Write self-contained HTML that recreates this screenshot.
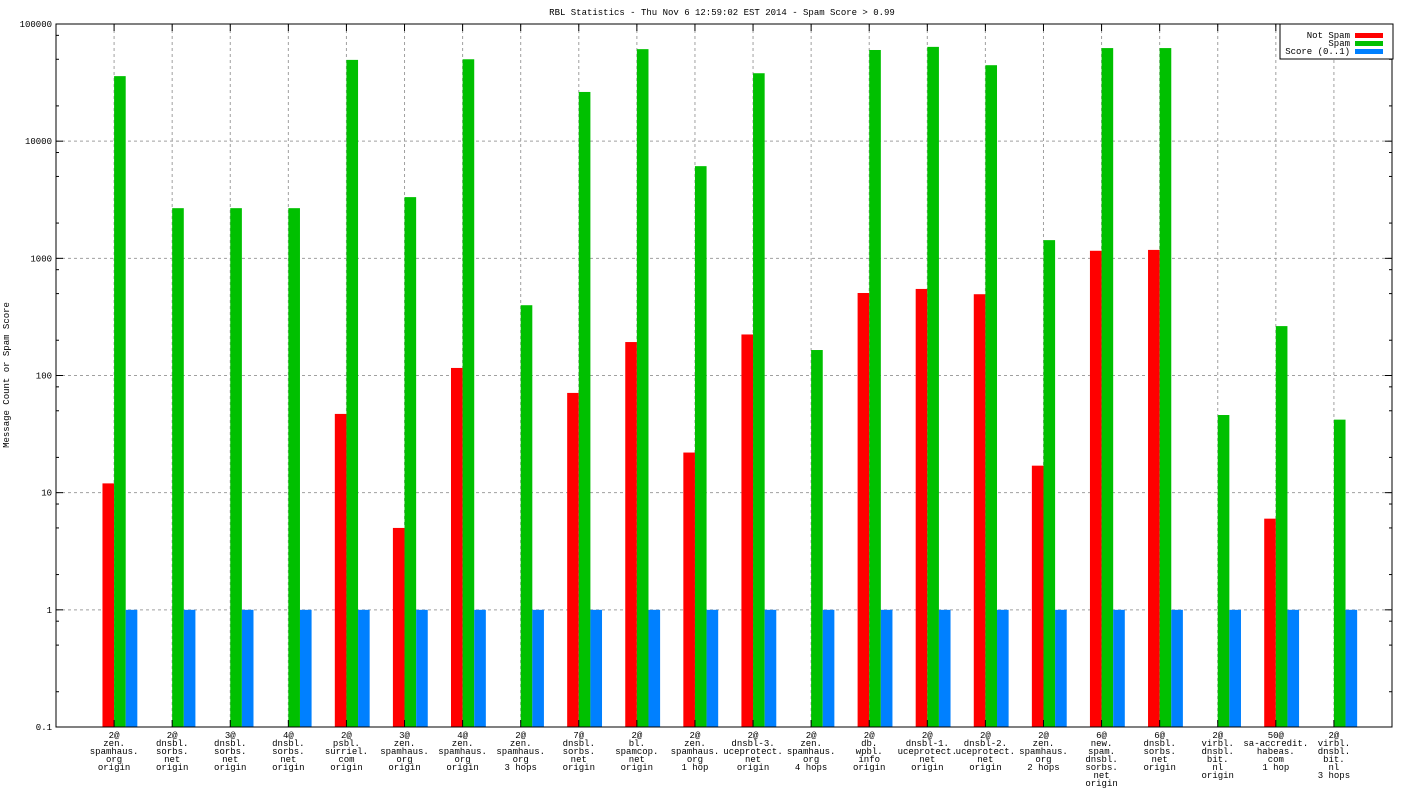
<!DOCTYPE html>
<html><head><meta charset="utf-8"><style>
body{margin:0;background:#fff}
svg text{font-family:"Liberation Mono","DejaVu Sans Mono",monospace;font-size:9px;fill:#000}
</style></head><body>
<svg id="chart" width="1408" height="792" xmlns="http://www.w3.org/2000/svg">
<text x="722" y="15" text-anchor="middle">RBL Statistics - Thu Nov  6 12:59:02 EST 2014 - Spam Score &gt; 0.99</text>
<text transform="translate(9,375) rotate(-90)" text-anchor="middle">Message Count or Spam Score</text>
<g id="grid"></g><g id="bars"></g><g id="axes"></g>
<g>
<rect x="1280" y="24" width="113" height="35" fill="#fff" stroke="#000"/>
<text x="1350" y="38" text-anchor="end">Not Spam</text>
<rect x="1355" y="33" width="28" height="5" fill="#ff0000"/>
<text x="1350" y="46" text-anchor="end">Spam</text>
<rect x="1355" y="41" width="28" height="5" fill="#00c000"/>
<text x="1350" y="54" text-anchor="end">Score (0..1)</text>
<rect x="1355" y="49" width="28" height="5" fill="#0080ff"/>
</g>
</svg>
<script>
const categories=[["2@","zen.","spamhaus.","org","origin"],["2@","dnsbl.","sorbs.","net","origin"],["3@","dnsbl.","sorbs.","net","origin"],["4@","dnsbl.","sorbs.","net","origin"],["2@","psbl.","surriel.","com","origin"],["3@","zen.","spamhaus.","org","origin"],["4@","zen.","spamhaus.","org","origin"],["2@","zen.","spamhaus.","org","3 hops"],["7@","dnsbl.","sorbs.","net","origin"],["2@","bl.","spamcop.","net","origin"],["2@","zen.","spamhaus.","org","1 hop"],["2@","dnsbl-3.","uceprotect.","net","origin"],["2@","zen.","spamhaus.","org","4 hops"],["2@","db.","wpbl.","info","origin"],["2@","dnsbl-1.","uceprotect.","net","origin"],["2@","dnsbl-2.","uceprotect.","net","origin"],["2@","zen.","spamhaus.","org","2 hops"],["6@","new.","spam.","dnsbl.","sorbs.","net","origin"],["6@","dnsbl.","sorbs.","net","origin"],["2@","virbl.","dnsbl.","bit.","nl","origin"],["50@","sa-accredit.","habeas.","com","1 hop"],["2@","virbl.","dnsbl.","bit.","nl","3 hops"]];
const notSpam=[12,0,0,0,47,5,116,0,71,193,22,224,0,506,548,494,17,1160,1180,0,6,0];
const spam=[35900,2680,2680,2680,49400,3330,50000,398,26300,61000,6120,38000,165,60000,63800,44500,1430,62300,62300,46,264,42];
const score=[1,1,1,1,1,1,1,1,1,1,1,1,1,1,1,1,1,1,1,1,1,1];
const yTicks=[0.1,1,10,100,1000,10000,100000];
const yTickLabels=["0.1","1","10","100","1000","10000","100000"];
const L=56,R=1392,T=24,B=727;
const xs=v=>L+(v+1)/23*(R-L);
const ys=v=>B-(Math.log10(v)+1)/6*(B-T);
const NS="http://www.w3.org/2000/svg";
function mk(tag,attrs,parent){const e=document.createElementNS(NS,tag);for(const k in attrs)e.setAttribute(k,attrs[k]);parent.appendChild(e);return e;}
const grid=document.getElementById('grid'),bars=document.getElementById('bars'),axes=document.getElementById('axes');
yTicks.forEach((t,i)=>{const y=ys(t);
 if(i>0&&i<yTicks.length-1){const g=mk('line',{x1:L,x2:R,y1:y,y2:y,stroke:'#a0a0a0','stroke-dasharray':'3,3'},grid);
 
 }
 mk('line',{x1:L,x2:L+7,y1:y,y2:y,stroke:'#000'},axes);mk('line',{x1:R,x2:R-7,y1:y,y2:y,stroke:'#000'},axes);
 const tx=mk('text',{x:L-4,y:y+3,'text-anchor':'end'},axes);tx.textContent=yTickLabels[i];
 
 
 if(i<yTicks.length-1)[2,5,8].forEach(m=>{const yy=ys(t*m);mk('line',{x1:L,x2:L+3,y1:yy,y2:yy,stroke:'#000'},axes);mk('line',{x1:R,x2:R-3,y1:yy,y2:yy,stroke:'#000'},axes);});
});
categories.forEach((c,i)=>{const x=xs(i);
 const g=mk('line',{x1:x,x2:x,y1:T,y2:B,stroke:'#a0a0a0','stroke-dasharray':'3,3'},grid);
 
 
 mk('line',{x1:x,x2:x,y1:B,y2:B-7,stroke:'#000'},axes);mk('line',{x1:x,x2:x,y1:T,y2:T+7,stroke:'#000'},axes);
 c.forEach((s,j)=>{const t=mk('text',{x:x,y:738+j*8,'text-anchor':'middle'},axes);t.textContent=s;
 
 });
 const w=xs(0.2)-xs(0);
 [[notSpam,'#ff0000',-0.2,'bar-not-spam'],[spam,'#00c000',0,'bar-spam'],[score,'#0080ff',0.2,'bar-score']].forEach(([arr,col,off,nm])=>{
  const v=arr[i];if(!(v>0.1))return;const y=ys(v);
  const r=mk('rect',{x:xs(i+off),y:y,width:w,height:B-y,fill:col},bars);
  
  });
});
mk('rect',{x:L,y:T,width:R-L,height:B-T,fill:'none',stroke:'#000'},axes);
</script>
</body></html>
